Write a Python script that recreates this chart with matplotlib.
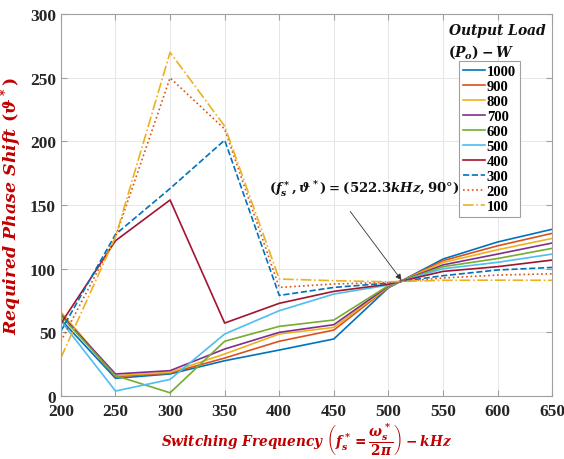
import matplotlib
matplotlib.use('Agg')
import matplotlib.pyplot as plt

# switching frequency (kHz) and required phase shift per output load (W)
freq = [200, 250, 300, 350, 400, 450, 500, 550, 600, 650]
loads = ['1000', '900', '800', '700', '600', '500', '400', '300', '200', '100']

p1000 = [60, 13.9, 17.3, 27.7, 36.1, 44.8, 85.0, 107.6, 121, 131]
p900 = [65, 15.2, 18, 29.8, 43, 51.8, 85.4, 106.3, 118, 127.8]
p800 = [66, 16, 18.6, 33, 48.7, 53.9, 85.8, 104.9, 114.9, 123.8]
p700 = [64, 17.3, 19.9, 36.9, 50, 56, 86.3, 103, 111.5, 120.2]
p600 = [63, 16, 2.5, 43, 54.7, 59.7, 86.7, 101.6, 108, 116]
p500 = [59, 3.9, 13, 48.7, 67, 80.1, 87.2, 100, 105, 111.5]
p400 = [57, 122, 154, 57.3, 72.8, 82.2, 87.8, 97.9, 101.6, 106.8]
p300 = [51, 127, 163, 201, 79, 85.3, 88.7, 94.5, 99, 101]
p200 = [43, 125, 250, 209.7, 85.3, 88, 89.2, 92.7, 95, 96]
p100 = [30, 125, 270, 212, 91.9, 90.6, 89.7, 90.9, 91, 90.9]

series = [p1000, p900, p800, p700, p600, p500, p400, p300, p200, p100]
colors = ['#0072BD', '#D95319', '#EDB120', '#7E2F8E', '#77AC30', '#4DBEEE', '#A2142F',
          '#0072BD', '#D95319', '#EDB120']
styles = ['-'] * 7 + ['--', ':', '-.']

plt.rcParams['mathtext.fontset'] = 'custom'
plt.rcParams['mathtext.rm'] = 'DejaVu Serif:bold'
plt.rcParams['mathtext.it'] = 'DejaVu Serif:italic:bold'
plt.rcParams['mathtext.bf'] = 'DejaVu Serif:bold'

fig = plt.figure(figsize=(5.64, 4.6), dpi=100)
ax = fig.add_axes([0.108, 0.137, 0.871, 0.830])

for vals, c, ls, lab in zip(series, colors, styles, loads):
    ax.plot(freq, vals, color=c, linestyle=ls, lw=1.2, label=lab)

ax.set_xlim(200, 650)
ax.set_ylim(0, 300)
ax.set_xticks(range(200, 651, 50))
ax.set_yticks(range(0, 301, 50))
ax.grid(True, color='#e6e6e6', lw=0.7)
ax.set_axisbelow(True)
for s in ax.spines.values():
    s.set_color('#a0a0a0')
ax.tick_params(direction='in', top=True, right=True, color='#a0a0a0', length=4)
ax.tick_params(axis='x', pad=5)
for lbl in ax.get_xticklabels() + ax.get_yticklabels():
    lbl.set_fontfamily('Liberation Serif')
    lbl.set_fontweight('bold')
    lbl.set_fontsize(12.5)
    lbl.set_color('#262626')

red = '#C00000'
ax.set_xlabel(r"$Switching\ Frequency\ \left(f_s^* = \dfrac{\omega_s^*}{2\pi}\right) - kHz$",
              color=red, fontsize=9.8, labelpad=1)
ax.set_ylabel(r"$Required\ Phase\ Shift\ (\vartheta^*)$", color=red, fontsize=12.5, labelpad=4)

ax.text(478, 163, r"$(f_s^*, \vartheta^*) = (522.3kHz, 90°)$", ha='center', va='center',
        fontsize=9.5, color='#111111')
ax.annotate('', xy=(512, 91), xytext=(465, 145),
            arrowprops=dict(arrowstyle='-|>', color='#333333', lw=0.6,
                            shrinkA=0, shrinkB=0, mutation_scale=9))

ax.text(0.788, 0.983, r"$Output\ Load$" + "\n" + r"$(P_o) - W$", transform=ax.transAxes,
        ha='left', va='top', fontsize=10, color='#111111', linespacing=1.25)

leg = ax.legend(loc='upper right', bbox_to_anchor=(0.935, 0.878),
                prop={'family': 'Liberation Serif', 'weight': 'bold', 'size': 10.5},
                labelspacing=0.12, handlelength=1.5, handletextpad=0.1,
                borderpad=0.3, borderaxespad=0, fancybox=False, framealpha=1)
leg.get_frame().set_edgecolor('#a0a0a0')
leg.get_frame().set_linewidth(0.8)

fig.savefig('out.png', dpi=100)
